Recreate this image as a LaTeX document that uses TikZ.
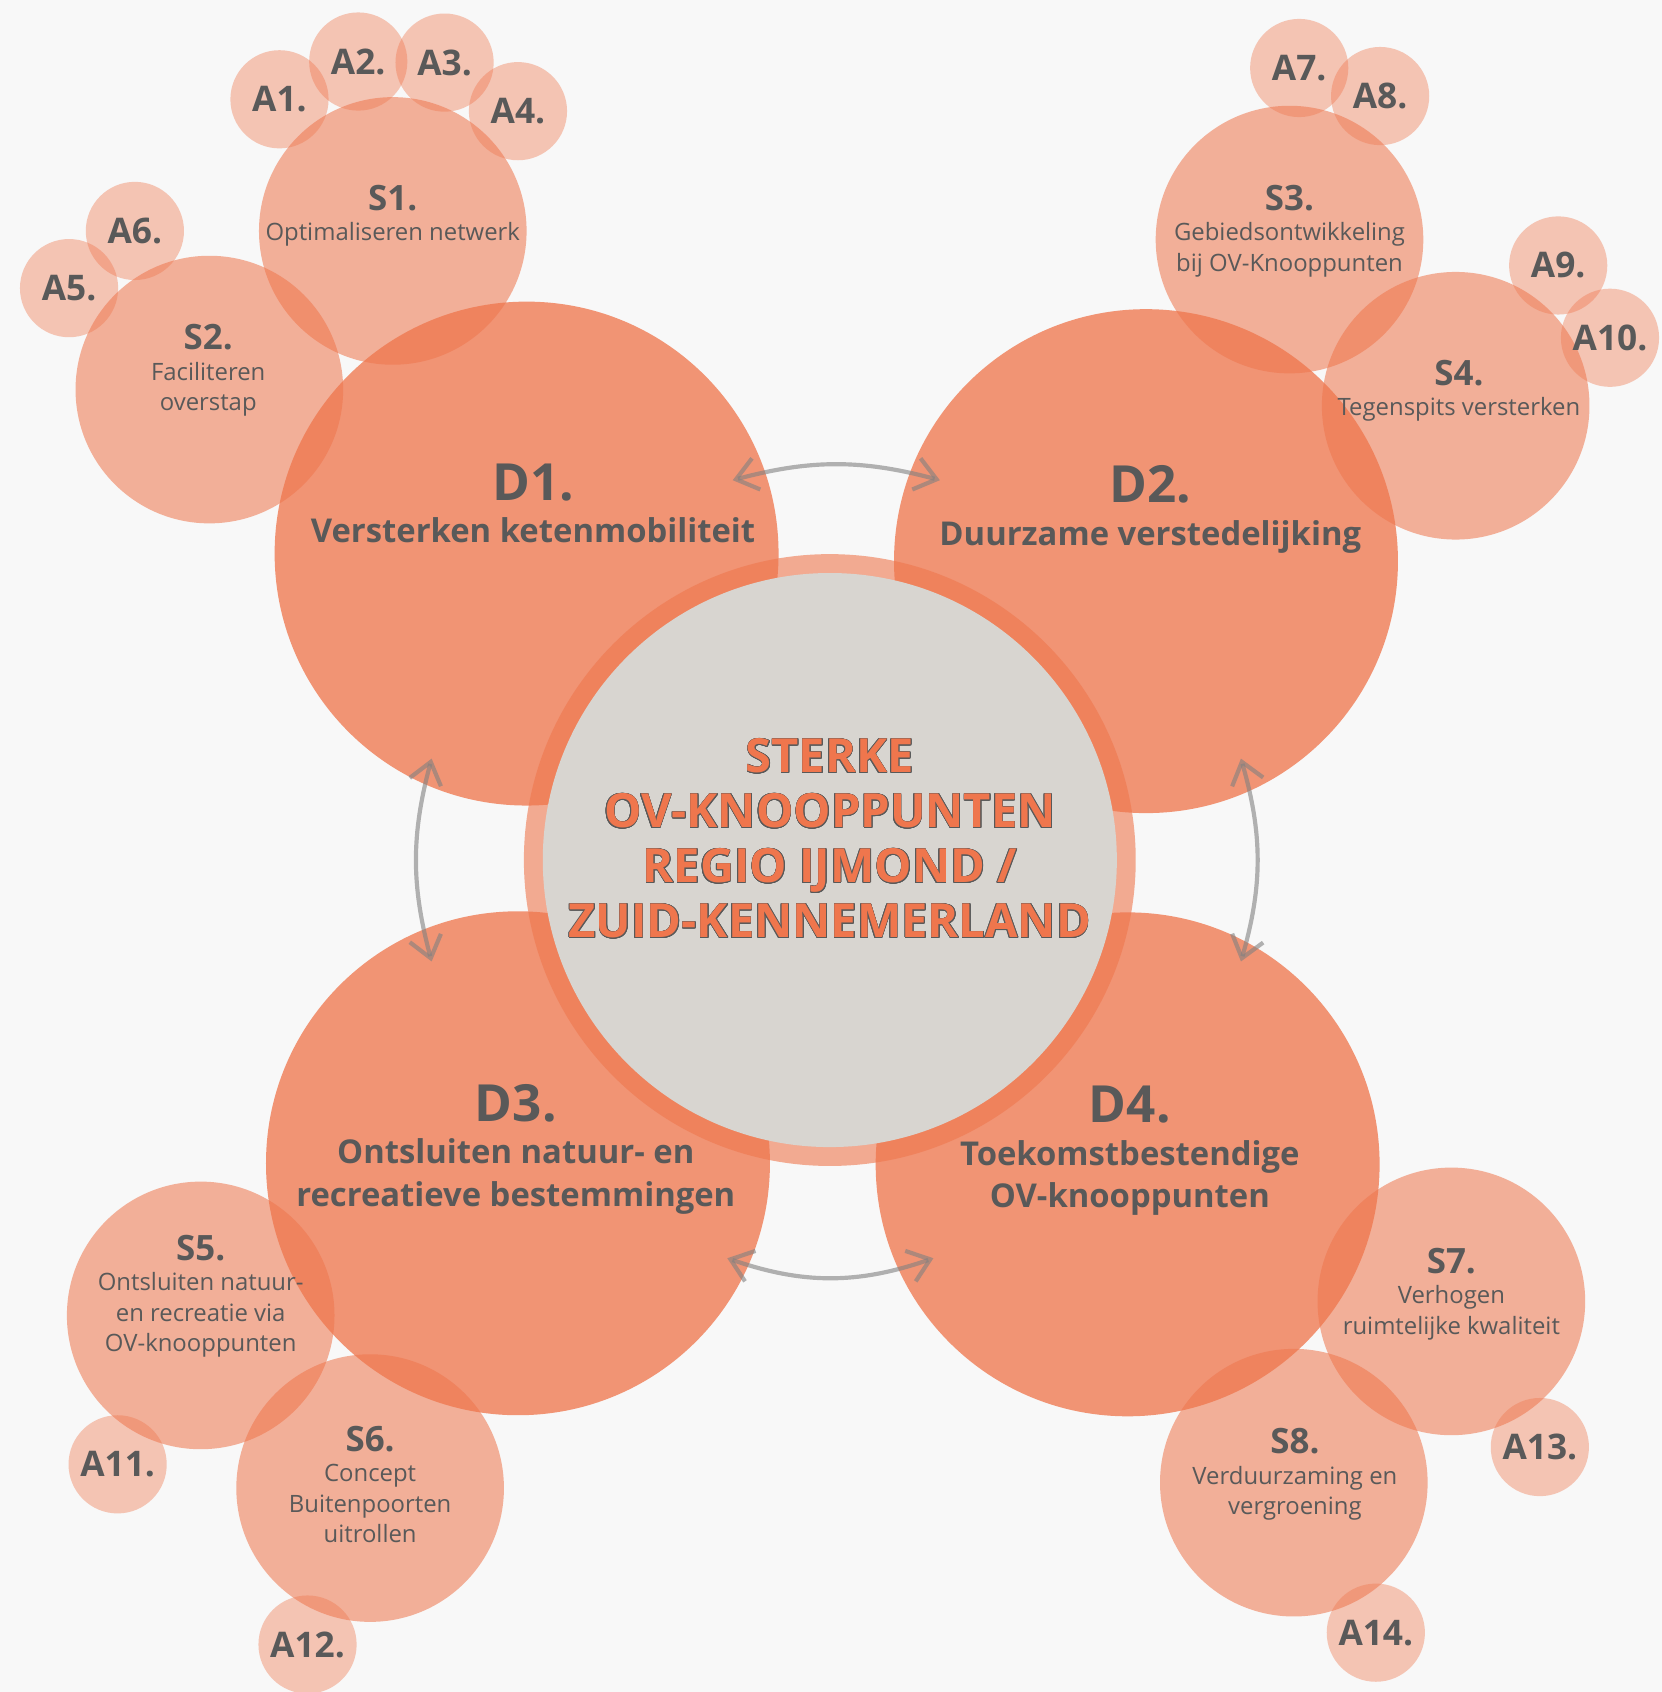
\documentclass[tikz,border=0pt]{standalone}
\usepackage{fontspec}
\setmainfont{Open Sans}
\usepackage{contour}
\usepackage{tikz}
\usetikzlibrary{arrows.meta,positioning,calc}

\definecolor{knoop}{RGB}{239,118,77}
\definecolor{schijf}{RGB}{216,213,208}
\definecolor{tekst}{RGB}{89,89,89}
\definecolor{achter}{RGB}{248,248,248}
\definecolor{pijlgrijs}{RGB}{128,128,128}

\contourlength{0.16pt}
\contournumber{16}

\newcommand{\dkop}[1]{{\fontsize{13.5}{14}\selectfont #1}}
\newcommand{\skop}[1]{{\bfseries\fontsize{9.2}{10}\selectfont #1}}

\begin{document}
\begin{tikzpicture}[x=0.1mm,y=0.1mm,
  dcirc/.style={circle,fill=knoop,fill opacity=0.77,minimum size=46.7mm,inner sep=0pt},
  scirc/.style={circle,fill=knoop,fill opacity=0.56,minimum size=24.8mm,inner sep=0pt},
  acirc/.style={circle,fill=knoop,fill opacity=0.4,text opacity=1,minimum size=9.1mm,inner sep=0pt,
    text=tekst,font=\bfseries\fontsize{9.3}{10}\selectfont},
  dtext/.style={anchor=north,align=center,inner sep=0pt,text=tekst,font=\bfseries\fontsize{8.65}{11.2}\selectfont},
  stext/.style={anchor=north,align=center,inner sep=0pt,text=tekst,font=\fontsize{6.3}{8}\selectfont},
  pijl/.style={draw=pijlgrijs,draw opacity=0.6,line width=1.1pt,
    {Straight Barb[length=5.5pt,width=8.5pt]}-{Straight Barb[length=5.5pt,width=8.5pt]}}]
  \useasboundingbox (0,0) rectangle (1540,-1568);
  \fill[achter] (0,0) rectangle (1540,-1568);
  % strategieen
  \node[scirc] (S1) at (364,-214) {};
  \node[scirc] (S2) at (194,-361) {};
  \node[scirc] (S3) at (1195,-222) {};
  \node[scirc] (S4) at (1349,-376) {};
  \node[scirc] (S5) at (186,-1219) {};
  \node[scirc] (S6) at (343,-1379) {};
  \node[scirc] (S7) at (1345,-1206) {};
  \node[scirc] (S8) at (1199,-1374) {};
  % acties
  \node[acirc] (A1) at (259,-92) {A1.};
  \node[acirc] (A2) at (332,-57) {A2.};
  \node[acirc] (A3) at (412,-58) {A3.};
  \node[acirc] (A4) at (480,-103) {A4.};
  \node[acirc] (A5) at (64,-267) {A5.};
  \node[acirc] (A6) at (125,-214) {A6.};
  \node[acirc] (A7) at (1204,-63) {A7.};
  \node[acirc] (A8) at (1279,-89) {A8.};
  \node[acirc] (A9) at (1444,-246) {A9.};
  \node[acirc] (A10) at (1492,-313) {A10.};
  \node[acirc] (A11) at (109,-1357) {A11.};
  \node[acirc] (A12) at (285,-1524) {A12.};
  \node[acirc] (A13) at (1427,-1341) {A13.};
  \node[acirc] (A14) at (1275,-1513) {A14.};
  % doelen
  \node[dcirc] (D1) at (488,-513) {};
  \node[dcirc] (D2) at (1062,-520) {};
  \node[dcirc] (D3) at (480,-1078) {};
  \node[dcirc] (D4) at (1045,-1079) {};
  % midden
  \node[circle,fill=knoop,fill opacity=0.6,minimum size=56.7mm,inner sep=0pt] (ring) at (769,-797) {};
  \node[circle,fill=schijf,minimum size=53.2mm,inner sep=0pt] (mid) at (769,-797) {};
  % pijlen
  \coordinate (p1) at (679,-445);
  \coordinate (p2) at (871,-445);
  \coordinate (p3) at (400,-703);
  \coordinate (p4) at (400,-891);
  \coordinate (p5) at (1150,-703);
  \coordinate (p6) at (1150,-891);
  \coordinate (p7) at (674,-1166);
  \coordinate (p8) at (865,-1166);
  \draw[pijl] (p1) to[bend left=15] (p2);
  \draw[pijl] (p3) to[bend right=15] (p4);
  \draw[pijl] (p5) to[bend left=16] (p6);
  \draw[pijl] (p7) to[bend right=19] (p8);
  % teksten
  \node[align=center,anchor=north,inner sep=0pt,text=knoop,font=\bfseries\fontsize{12.4}{14.5}\selectfont] (titel) at (769,-684)
    {\contour{tekst}{STERKE}\\\contour{tekst}{OV-KNOOPPUNTEN}\\\contour{tekst}{REGIO IJMOND /}\\\contour{tekst}{ZUID-KENNEMERLAND}};
  \node[dtext] (D1t) at (494,-429) {\dkop{D1.}\\Versterken ketenmobiliteit};
  \node[dtext] (D2t) at (1066,-431) {\dkop{D2.}\\Duurzame verstedelijking};
  \node[dtext] (D3t) at (478,-1004) {\dkop{D3.}\\Ontsluiten natuur- en\\recreatieve bestemmingen};
  \node[dtext] (D4t) at (1047,-1006) {\dkop{D4.}\\Toekomstbestendige\\OV-knooppunten};
  \node[stext] (S1t) at (364,-171) {\skop{S1.}\\Optimaliseren netwerk};
  \node[stext] (S2t) at (193,-300) {\skop{S2.}\\Faciliteren\\overstap};
  \node[stext] (S3t) at (1195,-171) {\skop{S3.}\\Gebiedsontwikkeling\\bij OV-Knooppunten};
  \node[stext] (S4t) at (1352,-333) {\skop{S4.}\\Tegenspits versterken};
  \node[stext] (S5t) at (186,-1144) {\skop{S5.}\\Ontsluiten natuur-\\en recreatie via\\OV-knooppunten};
  \node[stext] (S6t) at (343,-1321) {\skop{S6.}\\Concept\\Buitenpoorten\\uitrollen};
  \node[stext] (S7t) at (1345,-1156) {\skop{S7.}\\Verhogen\\ruimtelijke kwaliteit};
  \node[stext] (S8t) at (1200,-1323) {\skop{S8.}\\Verduurzaming en\\vergroening};
\end{tikzpicture}
\end{document}
